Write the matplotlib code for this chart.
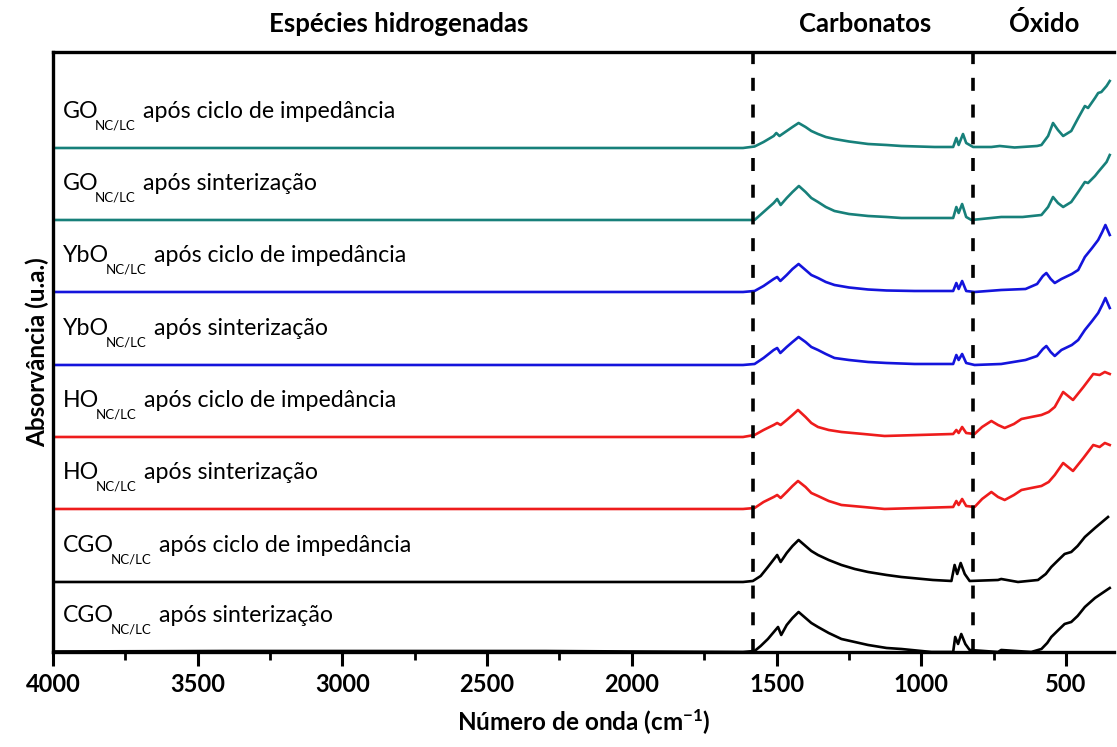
import numpy as np
import matplotlib.pyplot as plt
from matplotlib.ticker import MultipleLocator
import matplotlib.transforms as mtransforms

plt.rcParams['font.family'] = 'Lato'
plt.rcParams['mathtext.fontset'] = 'custom'
plt.rcParams['mathtext.rm'] = 'Lato'
plt.rcParams['mathtext.bf'] = 'Lato:bold'
plt.rcParams['mathtext.default'] = 'regular'

# spectra: wavenumber (cm-1) and absorbance above own baseline (a.u.)
wn_go_imp = [4000, 3000, 2000, 1616, 1576, 1545, 1510, 1501, 1490, 1470, 1445, 1424, 1400, 1380, 1357, 1330, 1300, 1250, 1184, 1120, 1069, 954, 890, 879, 871, 856, 845, 821, 758, 729, 678, 600, 585, 562, 545, 528, 510, 482, 458, 435, 424, 400, 389, 378, 360, 349]
ab_go_imp = [0, 0, 0, 0, 1.5, 6, 12, 15, 12, 16, 21, 25, 21, 17, 14, 11, 9, 6.5, 4, 3, 2, 1, 1, 10, 3, 14, 5, 1, 1, 2, 0.5, 2, 3, 12, 25, 18, 12, 17, 30, 42, 40, 50, 55, 56, 62, 67]

wn_go_sin = [4000, 2000, 1616, 1576, 1545, 1510, 1498, 1486, 1465, 1445, 1423, 1400, 1380, 1357, 1330, 1300, 1250, 1184, 1120, 1069, 954, 890, 879, 871, 859, 845, 827, 724, 650, 585, 562, 545, 528, 510, 482, 458, 435, 424, 400, 389, 360, 349]
ab_go_sin = [0, 0, 0, 0, 8, 17, 21, 15, 22, 28, 34, 28, 22, 18, 13, 9, 6, 4, 3, 2, 2, 2, 13, 7, 16, 3, 0, 3, 3, 5, 13, 23, 17, 13, 18, 28, 38, 37, 44, 48, 58, 65]

wn_ybo = [4000, 2000, 1616, 1576, 1545, 1510, 1498, 1487, 1465, 1445, 1424, 1400, 1380, 1357, 1330, 1300, 1250, 1184, 1120, 1023, 890, 879, 871, 859, 845, 816, 724, 640, 600, 580, 568, 553, 539, 516, 480, 458, 435, 410, 389, 375, 364, 349]
ab_ybo_imp = [0, 0, 0, 1, 6, 13, 15, 11, 17, 23, 28, 22, 17, 14, 10, 7, 4.5, 2.5, 1.5, 1, 1, 9, 3, 11, 1, 0, 2, 3, 8, 16, 19, 13, 9, 13, 18, 22, 35, 44, 52, 60, 67, 57]
ab_ybo_sin = [0, 0, 0, 1, 7, 15, 17, 12, 18, 23, 28, 23, 18, 15, 11, 7, 5, 3, 2, 1, 1, 10, 5, 11, 2, 0, 1, 5, 9, 16, 19, 13, 9, 15, 20, 25, 35, 44, 52, 60, 67, 57]

wn_ho = [4000, 2000, 1616, 1576, 1545, 1510, 1498, 1486, 1465, 1445, 1426, 1400, 1380, 1357, 1320, 1276, 1200, 1127, 890, 879, 871, 859, 845, 816, 790, 758, 735, 712, 680, 654, 620, 585, 560, 539, 510, 476, 440, 406, 384, 366, 349]
ab_ho_imp = [0, 0, 0, 2, 7, 12, 14, 12, 17, 22, 27, 20, 14, 10, 7, 5, 3, 1, 3, 7, 4, 10, 4, 3, 10, 16, 12, 9, 13, 18, 20, 22, 25, 30, 45, 37, 50, 63, 62, 65, 63]
ab_ho_sin = [0, 0, 0, 1, 7, 12, 14, 11, 17, 23, 28, 22, 16, 13, 8, 4, 2, 0, 2, 8, 4, 10, 3, 2, 10, 17, 12, 9, 14, 19, 21, 23, 27, 34, 46, 38, 51, 64, 62, 66, 64]

wn_cgo_imp = [4000, 2000, 1616, 1582, 1555, 1530, 1498, 1486, 1465, 1445, 1424, 1400, 1380, 1357, 1320, 1276, 1230, 1184, 1120, 1069, 960, 896, 885, 876, 864, 850, 833, 735, 724, 666, 597, 570, 551, 530, 505, 482, 460, 435, 400, 355]
ab_cgo_imp = [0, 0, 0, 1, 6, 15, 27, 20, 29, 36, 42, 36, 31, 27, 22, 17, 13, 10, 7, 5, 2, 1, 17, 8, 19, 8, 1, 2, 3, 0, 2, 8, 15, 21, 28, 30, 36, 45, 54, 65]

wn_cgo_sin = [4000, 3400, 2300, 2000, 1616, 1576, 1555, 1530, 1495, 1484, 1465, 1445, 1424, 1400, 1380, 1357, 1320, 1276, 1230, 1184, 1120, 1069, 965, 890, 883, 873, 862, 848, 833, 735, 724, 620, 585, 565, 551, 530, 505, 482, 460, 435, 400, 349]
ab_cgo_sin = [0.5, 1, 1, 0.5, 0, 1, 6, 13, 25, 17, 27, 34, 40, 34, 29, 25, 19, 13, 10, 7, 4, 3, 0, 0, 15, 8, 18, 8, 2, 0, 2, 0, 3, 9, 15, 21, 28, 30, 36, 45, 54, 64]

samples = ['GO', 'GO', 'YbO', 'YbO', 'HO', 'HO', 'CGO', 'CGO']
conditions = ['após ciclo de impedância', 'após sinterização'] * 4
offsets = [504, 432, 360, 287, 215, 143, 70, 0]
colors = ['#17807a', '#17807a', '#1414dc', '#1414dc', '#ee1c1c', '#ee1c1c', 'black', 'black']
spectra = [(wn_go_imp, ab_go_imp), (wn_go_sin, ab_go_sin),
           (wn_ybo, ab_ybo_imp), (wn_ybo, ab_ybo_sin),
           (wn_ho, ab_ho_imp), (wn_ho, ab_ho_sin),
           (wn_cgo_imp, ab_cgo_imp), (wn_cgo_sin, ab_cgo_sin)]

region_lines = [1580, 821]

fig = plt.figure(figsize=(11.17, 7.47), dpi=100)
ax = fig.add_axes([0.0474, 0.1272, 0.950, 0.8032])

for (wn, ab), off, c in zip(spectra, offsets, colors):
    ax.plot(wn, off + np.array(ab), color=c, linewidth=1.9)

# labels: name, low subscript, then condition
trans = mtransforms.blended_transform_factory(ax.transAxes, ax.transData)
for s, cond, off in zip(samples, conditions, offsets):
    t1 = ax.text(0.0094, off + 30, s, transform=trans, fontsize=16.7, va='baseline', ha='left')
    t2 = ax.annotate('NC/LC', xy=(1, off + 30), xycoords=(t1, trans), xytext=(-2.5, -8),
                     textcoords='offset points', fontsize=9.5, va='baseline', ha='left')
    ax.annotate(cond, xy=(1, off + 30), xycoords=(t2, trans), xytext=(5.5, 0),
                textcoords='offset points', fontsize=16.7, va='baseline', ha='left')

for xv in region_lines:
    ax.axvline(xv, color='black', linewidth=2.6, dashes=(3.6, 3.8))

ax.set_xlim(4000, 334)
ax.set_ylim(0, 600)
ax.xaxis.set_major_locator(MultipleLocator(500))
ax.xaxis.set_minor_locator(MultipleLocator(250))
ax.tick_params(axis='x', which='major', direction='out', length=10, width=2.2, pad=5, labelsize=17)
ax.tick_params(axis='x', which='minor', direction='out', length=5.5, width=2.0)
ax.tick_params(axis='y', left=False, labelleft=False)
for lab in ax.get_xticklabels():
    lab.set_fontweight('bold')
for sp in ['left', 'bottom', 'top']:
    ax.spines[sp].set_linewidth(2.4)
ax.spines['right'].set_visible(False)

ax.set_xlabel('Número de onda (cm$^{\\mathbf{-1}}$)', fontsize=17.5, fontweight='bold', labelpad=8)
ax.set_ylabel('Absorvância (u.a.)', fontsize=17.5, fontweight='bold', labelpad=3)

fig.text(399 / 1117, 0.968, 'Espécies hidrogenadas', ha='center', va='center', fontsize=18.5, fontweight='bold')
fig.text(865 / 1117, 0.968, 'Carbonatos', ha='center', va='center', fontsize=18.5, fontweight='bold')
fig.text(1044 / 1117, 0.968, 'Óxido', ha='center', va='center', fontsize=18.5, fontweight='bold')

fig.savefig('out.png', dpi=100)
